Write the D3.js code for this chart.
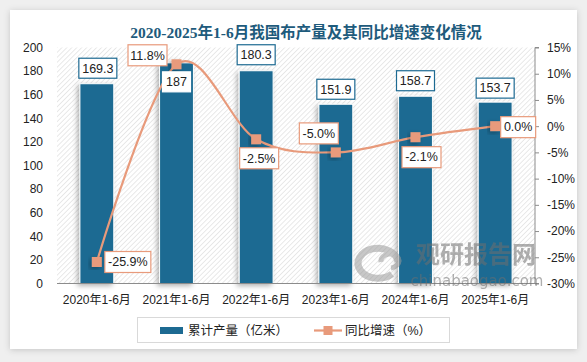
<!DOCTYPE html>
<html><head><meta charset="utf-8">
<script src="https://cdn.jsdelivr.net/npm/d3@7/dist/d3.min.js"></script>
<style>
html,body{margin:0;padding:0;background:#efefef;}
svg{display:block;}
</style></head>
<body>
<svg id="c" width="587" height="362"></svg>
<script>
const categories = ["2020年1-6月","2021年1-6月","2022年1-6月","2023年1-6月","2024年1-6月","2025年1-6月"];
const production = [169.3, 187, 180.3, 151.9, 158.7, 153.7];
const growth = [-25.9, 11.8, -2.5, -5.0, -2.1, 0.0];
const leftTicks = [0,20,40,60,80,100,120,140,160,180,200];
const rightTicks = [-30,-25,-20,-15,-10,-5,0,5,10,15];
const title = "2020-2025年1-6月我国布产量及其同比增速变化情况";
const legendLabels = ["累计产量（亿米）","同比增速（%）"];

const BAR = "#1d6a92", LINE = "#e89a7b", TXT = "#222";
const FONT = "'Liberation Sans','Noto Sans CJK SC',sans-serif";
const svg = d3.select("#c");
const defs = svg.append("defs");

const sh = defs.append("filter").attr("id","sh").attr("x","-30%").attr("y","-30%").attr("width","160%").attr("height","160%");
sh.append("feDropShadow").attr("dx",-2).attr("dy",2).attr("stdDeviation",2.5).attr("flood-color","#000").attr("flood-opacity",0.3);
const cs = defs.append("filter").attr("id","cs").attr("x","-5%").attr("y","-5%").attr("width","110%").attr("height","110%");
cs.append("feDropShadow").attr("dx",0).attr("dy",1).attr("stdDeviation",3).attr("flood-color","#000").attr("flood-opacity",0.18);
const pat = defs.append("pattern").attr("id","hatch").attr("patternUnits","userSpaceOnUse")
  .attr("width",3.5).attr("height",3.5).attr("patternTransform","rotate(45)");
pat.append("rect").attr("width",3.5).attr("height",3.5).attr("fill","#fff");
pat.append("line").attr("x1",0).attr("y1",0).attr("x2",0).attr("y2",3.5).attr("stroke","#d4d4d4").attr("stroke-width",1);

// card
svg.append("rect").attr("x",10).attr("y",10).attr("width",567).attr("height",339).attr("fill","#fff").attr("filter","url(#cs)");

const L = 57, R = 535, T = 47.5, B = 283.5;
const x = d3.scaleBand().domain(categories).range([L,R]).paddingInner(0.575).paddingOuter(0.2875);
const y = d3.scaleLinear().domain([0,200]).range([B,T]);
const y2 = d3.scaleLinear().domain([-30,15]).range([B,T]);

// title
svg.append("text").attr("x",306).attr("y",38).attr("text-anchor","middle")
  .attr("font-family","'Liberation Serif','Noto Sans CJK SC',serif").attr("font-weight","bold")
  .attr("font-size",15.5).attr("fill","#1e5b7c").text(title);

// plot bg
svg.append("rect").attr("x",L).attr("y",T).attr("width",R-L).attr("height",B-T).attr("fill","url(#hatch)");

// left axis
const ga = svg.append("g").attr("transform",`translate(${L},0)`)
  .call(d3.axisLeft(y).tickValues(leftTicks).tickSize(0).tickPadding(14));
ga.select(".domain").remove();
ga.selectAll("text").attr("font-family",FONT).attr("font-size",12).attr("fill",TXT);

// right axis
const gr = svg.append("g").attr("transform",`translate(${R},0)`)
  .call(d3.axisRight(y2).tickValues(rightTicks).tickSize(4).tickPadding(8).tickFormat(d=>d+"%"));
gr.select(".domain").attr("stroke","#8c8c8c").attr("d",`M4,${T}H0V${B}H4`);
gr.selectAll(".tick line").attr("stroke","#8c8c8c");
gr.selectAll("text").attr("font-family",FONT).attr("font-size",12).attr("fill",TXT);

// bars
svg.append("g").selectAll("rect").data(production).join("rect")
  .attr("x",(d,i)=>x(categories[i])).attr("width",x.bandwidth())
  .attr("y",d=>y(d)).attr("height",d=>B-y(d))
  .attr("fill",BAR).attr("stroke","#fff").attr("stroke-width",1).attr("filter","url(#sh)");

// bottom axis
const gb = svg.append("g").attr("transform",`translate(0,${B})`)
  .call(d3.axisBottom(x).tickSize(0).tickPadding(12));
gb.select(".domain").attr("stroke","#8c8c8c").attr("d",`M${L},0H${R}`);
gb.selectAll("text").attr("font-family",FONT).attr("font-size",12).attr("fill",TXT);

// line
const cx = i => x(categories[i]) + x.bandwidth()/2;
const lineGen = d3.line().x((d,i)=>cx(i)).y(d=>y2(d)).curve(d3.curveCardinal.tension(0));
svg.append("path").datum(growth).attr("d",lineGen).attr("fill","none").attr("stroke",LINE).attr("stroke-width",2.2);
svg.append("g").selectAll("rect").data(growth).join("rect")
  .attr("x",(d,i)=>cx(i)-5).attr("y",d=>y2(d)-5).attr("width",10).attr("height",10)
  .attr("fill",LINE).attr("filter","url(#sh)");

// labels
function box(cxp, cyp, w, h, txt, stroke){
  const g = svg.append("g");
  g.append("rect").attr("x",cxp-w/2).attr("y",cyp-h/2).attr("width",w).attr("height",h)
    .attr("fill","#fff").attr("stroke",stroke).attr("stroke-width",1.2);
  g.append("text").attr("x",cxp).attr("y",cyp+4.3).attr("text-anchor","middle")
    .attr("font-family",FONT).attr("font-size",12.5).attr("fill",TXT).text(txt);
}
const barLblOff = [-15.5, 19, -16, -15, -15.5, -14];
const barLblStroke = [BAR, "#fff", BAR, BAR, BAR, BAR];
production.forEach((v,i)=>{
  const t = String(v);
  const w = t.length>3 ? 38 : 28;
  box(cx(i)+ (i===0?1:0), y(v)+barLblOff[i], w, 20, t, barLblStroke[i]);
});
const gOff = [[31,0],[-29,-9],[3,19],[-17,-19],[6,20],[23,1]];
growth.forEach((v,i)=>{
  const t = v.toFixed(1)+"%";
  const w = t.length>5 ? 46 : (t.length>4 ? 39 : 35);
  box(cx(i)+gOff[i][0], y2(v)+gOff[i][1], w, 21, t, LINE);
});

// watermark
const wm = svg.append("g").attr("opacity",0.55);
wm.append("path").attr("d","M398,262 a20,15 0 1,0 -6,12").attr("fill","none").attr("stroke","#9a9a9a").attr("stroke-width",7);
wm.append("path").attr("d","M381,262 a9,7 0 1,1 10,6").attr("fill","none").attr("stroke","#9a9a9a").attr("stroke-width",5);
wm.append("text").attr("x",476).attr("y",263).attr("text-anchor","middle").attr("font-family","'Noto Sans CJK SC',sans-serif")
  .attr("font-weight","bold").attr("font-size",24).attr("fill","#6f6f6f").text("观研报告网");
wm.append("text").attr("x",477).attr("y",286).attr("text-anchor","middle").attr("font-family","'DejaVu Sans',sans-serif")
  .attr("font-size",15).attr("fill","#6f6f6f").text("chinabaogao.com");

// legend
svg.append("rect").attr("x",137.5).attr("y",317.5).attr("width",312).attr("height",25).attr("fill","#fff").attr("stroke","#d9d9d9");
svg.append("rect").attr("x",160).attr("y",327).attr("width",23).attr("height",7).attr("fill",BAR);
svg.append("text").attr("x",188).attr("y",335).attr("font-family",FONT).attr("font-size",12.5).attr("fill",TXT).text(legendLabels[0]);
svg.append("line").attr("x1",314).attr("x2",342).attr("y1",330.5).attr("y2",330.5).attr("stroke",LINE).attr("stroke-width",2.2);
svg.append("rect").attr("x",323.5).attr("y",326).attr("width",9).attr("height",9).attr("fill",LINE);
svg.append("text").attr("x",345).attr("y",335).attr("font-family",FONT).attr("font-size",12.5).attr("fill",TXT).text(legendLabels[1]);
</script>
</body></html>
